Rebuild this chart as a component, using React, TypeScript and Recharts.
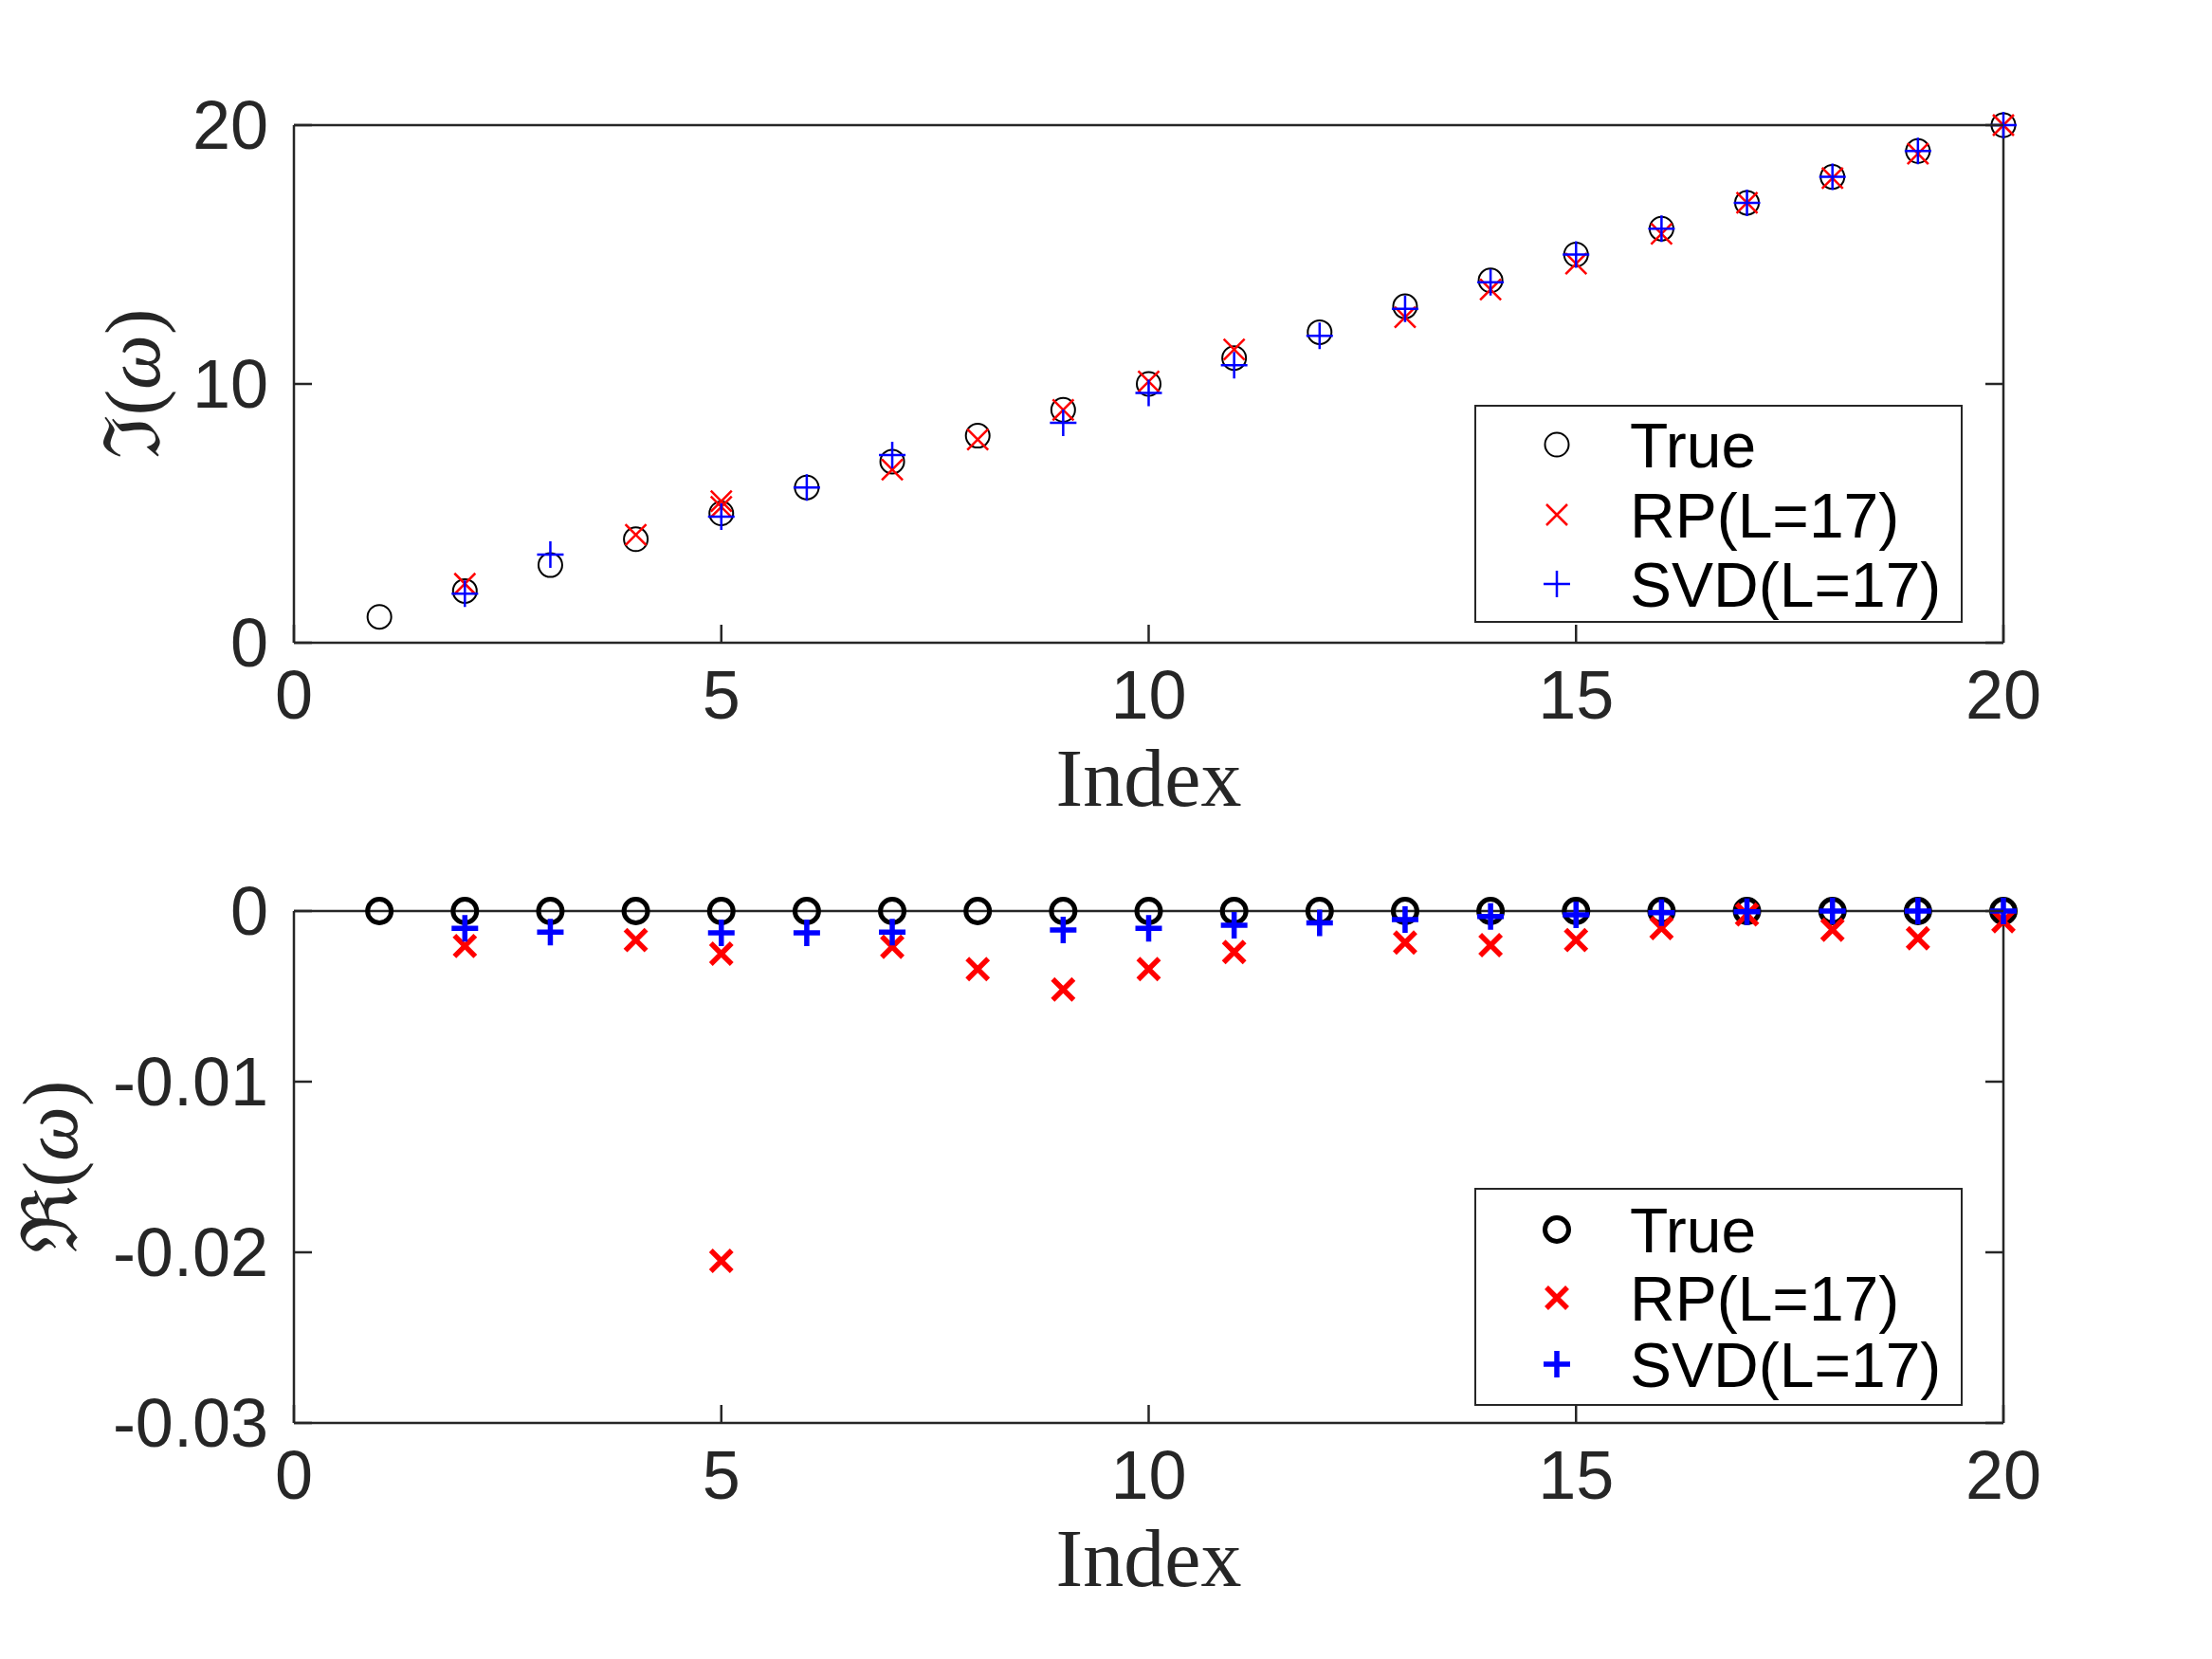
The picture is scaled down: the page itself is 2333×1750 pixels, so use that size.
import React from "react";
import { ScatterChart, Scatter, XAxis, YAxis, Legend, Label } from "recharts";

// index axis shared by both panels
const trueIndex = [1, 2, 3, 4, 5, 6, 7, 8, 9, 10, 11, 12, 13, 14, 15, 16, 17, 18, 19, 20];
const trueIm = [1, 2, 3, 4, 5, 6, 7, 8, 9, 10, 11, 12, 13, 14, 15, 16, 17, 18, 19, 20];
const trueRe = [0, 0, 0, 0, 0, 0, 0, 0, 0, 0, 0, 0, 0, 0, 0, 0, 0, 0, 0, 0];

const rpIndex = [2, 4, 5, 5, 7, 8, 9, 10, 11, 13, 14, 15, 16, 17, 18, 19, 20];
const rpIm = [2.28, 4.17, 5.47, 5.25, 6.69, 7.85, 9.0, 10.1, 11.33, 12.58, 13.65, 14.65, 15.8, 17.0, 17.95, 18.9, 20.0];
const rpRe = [-0.00205, -0.0017, -0.0025, -0.0205, -0.0021, -0.0034, -0.0046, -0.0034, -0.0024, -0.00185, -0.002, -0.0017, -0.001, -0.0002, -0.0011, -0.0016, -0.0006];

const svdIndex = [2, 3, 5, 6, 7, 9, 10, 11, 12, 13, 14, 15, 16, 17, 18, 19, 20];
const svdIm = [1.9, 3.41, 4.87, 6.0, 7.25, 8.5, 9.65, 10.72, 11.86, 12.9, 13.93, 15.0, 16.0, 17.0, 18.0, 19.0, 20.0];
const svdRe = [-0.00102, -0.00124, -0.00128, -0.00128, -0.00124, -0.00111, -0.00102, -0.00083, -0.00069, -0.0005, -0.00032, -0.00022, -0.0001, -0.00004, 0, 0, 0];

const xTicks = [0, 5, 10, 15, 20];
const imTicks = [0, 10, 20];
const reTicks = [-0.03, -0.02, -0.01, 0];
const seriesNames = ["True", "RP(L=17)", "SVD(L=17)"];

const W = 2333;
const AXIS = "#262626";
const SANS = "'Liberation Sans', Arial, Helvetica, sans-serif";
const SERIF = "'Liberation Serif', 'DejaVu Serif', serif";
const TICK_LEN = 19;
const TICK_FONT = 72;

const toPoints = (xs: number[], ys: number[]) => xs.map((x, i) => ({ x, y: ys[i] }));

// marker shapes (thin in the top panel, bold in the bottom one)
const circle = (sw: number) => (p: any) => (
  <circle cx={p.cx} cy={p.cy} r={12.5} fill="none" stroke="#000" strokeWidth={sw} />
);
const cross = (sw: number) => (p: any) => {
  const h = 11;
  return (
    <path
      d={`M${p.cx - h},${p.cy - h}L${p.cx + h},${p.cy + h}M${p.cx - h},${p.cy + h}L${p.cx + h},${p.cy - h}`}
      stroke="#ff0000"
      strokeWidth={sw}
      fill="none"
    />
  );
};
const plus = (sw: number) => (p: any) => {
  const h = 14;
  return (
    <path
      d={`M${p.cx - h},${p.cy}L${p.cx + h},${p.cy}M${p.cx},${p.cy - h}L${p.cx},${p.cy + h}`}
      stroke="#0000ff"
      strokeWidth={sw}
      fill="none"
    />
  );
};

const BottomTick = (p: any) => (
  <g>
    <line x1={p.x} y1={p.y} x2={p.x} y2={p.y - TICK_LEN} stroke={AXIS} strokeWidth={2.5} />
    <text x={p.x} y={p.y + 80} textAnchor="middle" fontSize={TICK_FONT} fontFamily={SANS} fill={AXIS}>
      {p.payload.value}
    </text>
  </g>
);
const TopTick = (p: any) => (
  <line x1={p.x} y1={p.y} x2={p.x} y2={p.y + TICK_LEN} stroke={AXIS} strokeWidth={2.5} />
);
const LeftTick = (p: any) => (
  <g>
    <line x1={p.x} y1={p.y} x2={p.x + TICK_LEN} y2={p.y} stroke={AXIS} strokeWidth={2.5} />
    <text x={p.x - 27} y={p.y + 25} textAnchor="end" fontSize={TICK_FONT} fontFamily={SANS} fill={AXIS}>
      {p.payload.value}
    </text>
  </g>
);
const RightTick = (p: any) => (
  <line x1={p.x} y1={p.y} x2={p.x - TICK_LEN} y2={p.y} stroke={AXIS} strokeWidth={2.5} />
);

const indexLabel = (p: any) => {
  const vb = p.viewBox;
  return (
    <text x={vb.x + vb.width / 2} y={vb.y + 172} textAnchor="middle" fontSize={86} fontFamily={SERIF} fill={AXIS}>
      Index
    </text>
  );
};

const yLabel = (sym: string, cxOff: number) => (p: any) => {
  const vb = p.viewBox;
  const cx = vb.x + cxOff;
  const cy = vb.y + vb.height / 2;
  return (
    <text
      x={cx}
      y={cy}
      transform={`rotate(-90 ${cx} ${cy})`}
      textAnchor="middle"
      dominantBaseline="central"
      fontSize={82}
      fontFamily={SERIF}
      fill={AXIS}
    >
      <tspan>{sym}</tspan>
      <tspan>(</tspan>
      <tspan fontStyle="italic">ω</tspan>
      <tspan>)</tspan>
    </text>
  );
};

const LegendBox = ({ sw, rows }: { sw: number; rows: number[] }) => {
  const shapes = [circle(sw), cross(sw + 0.5), plus(sw + 0.5)];
  return (
    <div style={{ width: 515, height: 230, border: `2.5px solid ${AXIS}`, boxSizing: "border-box", background: "#fff" }}>
      <svg width={511} height={226} style={{ display: "block" }}>
        {seriesNames.map((name, i) => (
          <g key={name}>
            {shapes[i]({ cx: 85, cy: rows[i] })}
            <text x={162} y={rows[i] + 24} fontSize={66} fontFamily={SANS} fill="#000">
              {name}
            </text>
          </g>
        ))}
      </svg>
    </div>
  );
};

function Panel(props: {
  top: number;
  height: number;
  margin: { top: number; right: number; bottom: number; left: number };
  yDomain: [number, number];
  yTicks: number[];
  ys: number[][];
  sw: number;
  ySym: string;
  yLabelX: number;
  legendTop: number;
  legendRows: number[];
}) {
  const { sw } = props;
  return (
    <div style={{ position: "absolute", left: 0, top: props.top }}>
      <ScatterChart width={W} height={props.height} margin={props.margin}>
        <XAxis
          xAxisId="b"
          dataKey="x"
          type="number"
          domain={[0, 20]}
          ticks={xTicks}
          interval={0}
          tickSize={0}
          tickMargin={0}
          tickLine={false}
          tick={<BottomTick />}
          axisLine={{ stroke: AXIS, strokeWidth: 2.5 }}
          height={100}
        >
          <Label content={indexLabel} />
        </XAxis>
        <XAxis
          xAxisId="t"
          orientation="top"
          type="number"
          domain={[0, 20]}
          allowDataOverflow
          ticks={xTicks}
          interval={0}
          tickSize={0}
          tickMargin={0}
          tickLine={false}
          tick={<TopTick />}
          axisLine={{ stroke: AXIS, strokeWidth: 2.5 }}
          height={1}
        />
        <YAxis
          yAxisId="l"
          dataKey="y"
          type="number"
          domain={props.yDomain}
          ticks={props.yTicks}
          interval={0}
          tickSize={0}
          tickMargin={0}
          tickLine={false}
          tick={<LeftTick />}
          axisLine={{ stroke: AXIS, strokeWidth: 2.5 }}
          width={310}
        >
          <Label content={yLabel(props.ySym, props.yLabelX)} />
        </YAxis>
        <YAxis
          yAxisId="r"
          orientation="right"
          type="number"
          domain={props.yDomain}
          allowDataOverflow
          ticks={props.yTicks}
          interval={0}
          tickSize={0}
          tickMargin={0}
          tickLine={false}
          tick={<RightTick />}
          axisLine={{ stroke: AXIS, strokeWidth: 2.5 }}
          width={1}
        />
        <Scatter
          name={seriesNames[0]}
          xAxisId="b"
          yAxisId="l"
          data={toPoints(trueIndex, props.ys[0])}
          shape={circle(sw)}
          isAnimationActive={false}
        />
        <Scatter
          name={seriesNames[1]}
          xAxisId="b"
          yAxisId="l"
          data={toPoints(rpIndex, props.ys[1])}
          shape={cross(sw + 0.5)}
          isAnimationActive={false}
        />
        <Scatter
          name={seriesNames[2]}
          xAxisId="b"
          yAxisId="l"
          data={toPoints(svdIndex, props.ys[2])}
          shape={plus(sw + 0.5)}
          isAnimationActive={false}
        />
        <Legend
          layout="vertical"
          align="center"
          verticalAlign="middle"
          wrapperStyle={{ position: "absolute", left: 1555, top: props.legendTop, width: 515, height: 230 }}
          content={() => <LegendBox sw={sw} rows={props.legendRows} />}
        />
      </ScatterChart>
    </div>
  );
}

export default function App() {
  return (
    <div style={{ position: "absolute", left: 0, top: 0, width: W, height: 1750, background: "#fff" }}>
      <Panel
        top={0}
        height={880}
        margin={{ top: 131, right: 219, bottom: 102, left: 0 }}
        yDomain={[0, 20]}
        yTicks={imTicks}
        ys={[trueIm, rpIm, svdIm]}
        sw={2}
        ySym="ℑ"
        yLabelX={140}
        legendTop={427}
        legendRows={[40, 114, 187]}
      />
      <Panel
        top={880}
        height={870}
        margin={{ top: 80, right: 219, bottom: 149, left: 0 }}
        yDomain={[-0.03, 0]}
        yTicks={reTicks}
        ys={[trueRe, rpRe, svdRe]}
        sw={5}
        ySym="ℜ"
        yLabelX={53}
        legendTop={373}
        legendRows={[42, 114, 184]}
      />
    </div>
  );
}
